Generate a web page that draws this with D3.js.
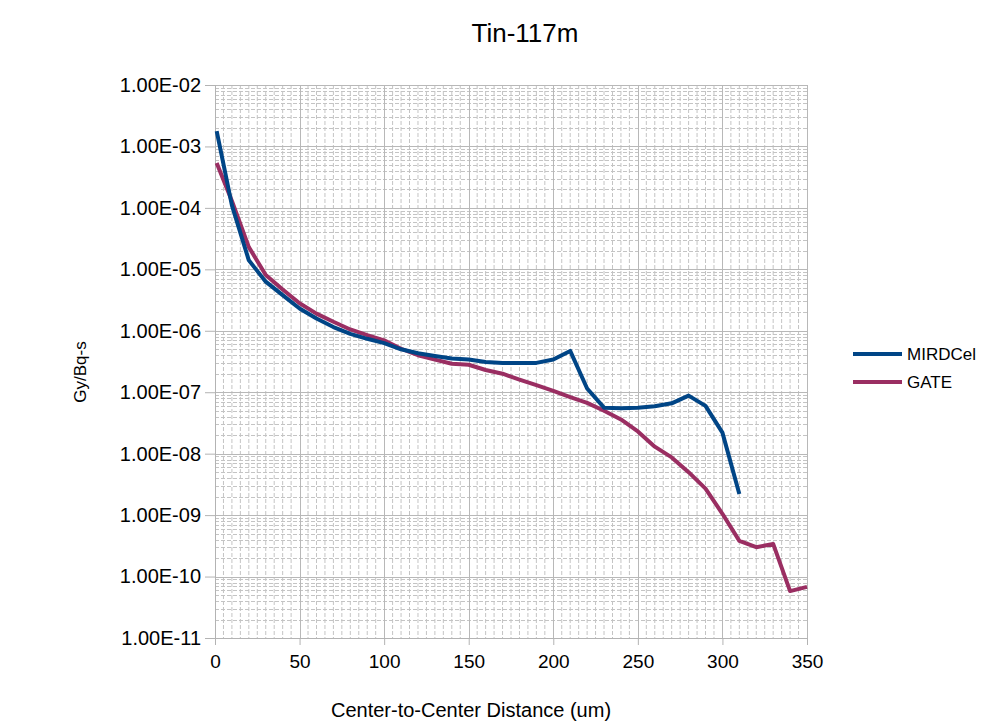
<!DOCTYPE html>
<meta charset="utf-8">
<script src="https://d3js.org/d3.v7.min.js"></script>
<style>
body { margin: 0; background: #fff; }
svg { font-family: "Liberation Sans", Arial, sans-serif; }
.grid-major line { stroke: #b8b8b8; stroke-width: 1px; }
.grid-minor line { stroke: #c4c4c4; stroke-width: 1px; stroke-dasharray: 4 2; }
.axis path, .axis line { stroke: #b3b3b3; }
.axis text { fill: #000; }
.y.axis text { font-size: 20px; }
.x.axis text { font-size: 19px; }
</style>
<body>
<script>

// distances (um)
var xMird = [1, 10, 20, 30, 40, 50, 60, 70, 80, 90, 100, 110, 120, 130, 140, 150, 160, 170, 180, 190, 200, 210, 220, 230, 240, 250, 260, 270, 280, 290, 300, 310];
var mirdcel = [1.78e-3, 1.1e-4, 1.4e-5, 6.3e-6, 3.8e-6, 2.3e-6, 1.58e-6, 1.15e-6, 8.9e-7, 7.4e-7, 6.3e-7, 5.0e-7, 4.3e-7, 3.9e-7, 3.55e-7, 3.4e-7, 3.1e-7, 3.0e-7, 3.0e-7, 3.0e-7, 3.4e-7, 4.7e-7, 1.15e-7, 5.6e-8, 5.5e-8, 5.6e-8, 5.9e-8, 6.6e-8, 8.8e-8, 6.0e-8, 2.2e-8, 2.2e-9];

var xGate = [1, 10, 20, 30, 40, 50, 60, 70, 80, 90, 100, 110, 120, 130, 140, 150, 160, 170, 180, 190, 200, 210, 220, 230, 240, 250, 260, 270, 280, 290, 300, 310, 320, 330, 340, 350];
var gate = [5.4e-4, 1.3e-4, 2.3e-5, 8.1e-6, 4.7e-6, 2.8e-6, 1.9e-6, 1.4e-6, 1.05e-6, 8.5e-7, 7.0e-7, 5.1e-7, 4.0e-7, 3.4e-7, 2.9e-7, 2.8e-7, 2.3e-7, 2.0e-7, 1.6e-7, 1.3e-7, 1.05e-7, 8.3e-8, 6.7e-8, 5.0e-8, 3.6e-8, 2.3e-8, 1.3e-8, 8.7e-9, 5.0e-9, 2.7e-9, 1.05e-9, 3.8e-10, 3.0e-10, 3.4e-10, 5.8e-11, 6.8e-11];

var xTicks = [0, 50, 100, 150, 200, 250, 300, 350];
var yTicks = [1e-2, 1e-3, 1e-4, 1e-5, 1e-6, 1e-7, 1e-8, 1e-9, 1e-10, 1e-11];
var seriesNames = ['MIRDCel', 'GATE'];
var colors = ['#004586', '#9a2e62'];

var width = 990, height = 722;
var plot = {left: 215, right: 807, top: 85, bottom: 638};

var svg = d3.select('body').append('svg')
    .attr('width', width)
    .attr('height', height);

var xScale = d3.scaleLinear().domain([0, 350]).range([plot.left, plot.right]);
var yScale = d3.scaleLog().domain([1e-11, 1e-2]).range([plot.bottom, plot.top]);

// minor grid: x every 5, y 2..9 in each decade
var xMinor = d3.range(0, 351, 5).filter(function(d) { return d % 50 != 0; });
var yMinor = [];
yTicks.slice(1).forEach(function(t) {
    for (var k = 2; k <= 9; k++) yMinor.push(t * k);
});

var gMinor = svg.append('g').attr('class', 'grid-minor');
gMinor.selectAll('.vx').data(xMinor).enter().append('line')
    .attr('x1', function(d) { return xScale(d); })
    .attr('x2', function(d) { return xScale(d); })
    .attr('y1', plot.top).attr('y2', plot.bottom);
gMinor.selectAll('.hy').data(yMinor).enter().append('line')
    .attr('y1', function(d) { return Math.round(yScale(d)) + 0.5; })
    .attr('y2', function(d) { return Math.round(yScale(d)) + 0.5; })
    .attr('x1', plot.left).attr('x2', plot.right);

var gMajor = svg.append('g').attr('class', 'grid-major');
gMajor.selectAll('.vx').data(xTicks.slice(1)).enter().append('line')
    .attr('x1', function(d) { return Math.round(xScale(d)) + 0.5; })
    .attr('x2', function(d) { return Math.round(xScale(d)) + 0.5; })
    .attr('y1', plot.top).attr('y2', plot.bottom);
gMajor.selectAll('.hy').data(yTicks).enter().append('line')
    .attr('y1', function(d) { return Math.round(yScale(d)) + 0.5; })
    .attr('y2', function(d) { return Math.round(yScale(d)) + 0.5; })
    .attr('x1', plot.left).attr('x2', plot.right);

// axes
var fmt = function(d) {
    var e = Math.round(Math.log10(d));
    return '1.00E-' + String(-e).padStart(2, '0');
};

var xAxis = d3.axisBottom(xScale).tickValues(xTicks).tickSize(7).tickPadding(10).tickFormat(d3.format('d'));
var yAxis = d3.axisLeft(yScale).tickValues(yTicks).tickSize(10).tickPadding(4).tickFormat(fmt);

svg.append('g').attr('class', 'x axis')
    .attr('transform', 'translate(0,' + plot.bottom + ')')
    .call(xAxis)
    .call(function(g) { g.select('.domain').attr('d', 'M' + plot.left + ',0.5H' + plot.right); });

svg.append('g').attr('class', 'y axis')
    .attr('transform', 'translate(' + plot.left + ',0)')
    .call(yAxis)
    .call(function(g) { g.select('.domain').attr('d', 'M0.5,' + plot.top + 'V' + plot.bottom); });

// lines
var line = d3.line()
    .x(function(d) { return xScale(d[0]); })
    .y(function(d) { return yScale(d[1]); });

var series = [d3.zip(xMird, mirdcel), d3.zip(xGate, gate)];

svg.selectAll('.series').data([series[1], series[0]]).enter().append('path')
    .attr('class', 'series')
    .attr('d', line)
    .attr('fill', 'none')
    .attr('stroke', function(d, i) { return i == 0 ? colors[1] : colors[0]; })
    .attr('stroke-width', 4)
    .attr('stroke-linejoin', 'round');

// title + axis labels
svg.append('text')
    .attr('x', 525).attr('y', 42)
    .attr('text-anchor', 'middle')
    .style('font-size', '26px')
    .text('Tin-117m');

svg.append('text')
    .attr('x', 471).attr('y', 717)
    .attr('text-anchor', 'middle')
    .style('font-size', '20px')
    .text('Center-to-Center Distance (um)');

svg.append('text')
    .attr('transform', 'translate(86,372) rotate(-90)')
    .attr('text-anchor', 'middle')
    .style('font-size', '17px')
    .text('Gy/Bq-s');

// legend
var legend = svg.selectAll('.legend').data(seriesNames).enter().append('g')
    .attr('class', 'legend')
    .attr('transform', function(d, i) { return 'translate(853,' + (354 + i * 28) + ')'; });

legend.append('line')
    .attr('x1', 0).attr('x2', 49)
    .attr('stroke', function(d, i) { return colors[i]; })
    .attr('stroke-width', 4);

legend.append('text')
    .attr('x', 54).attr('y', 6)
    .style('font-size', '17px')
    .text(function(d) { return d; });

</script>
</body>
